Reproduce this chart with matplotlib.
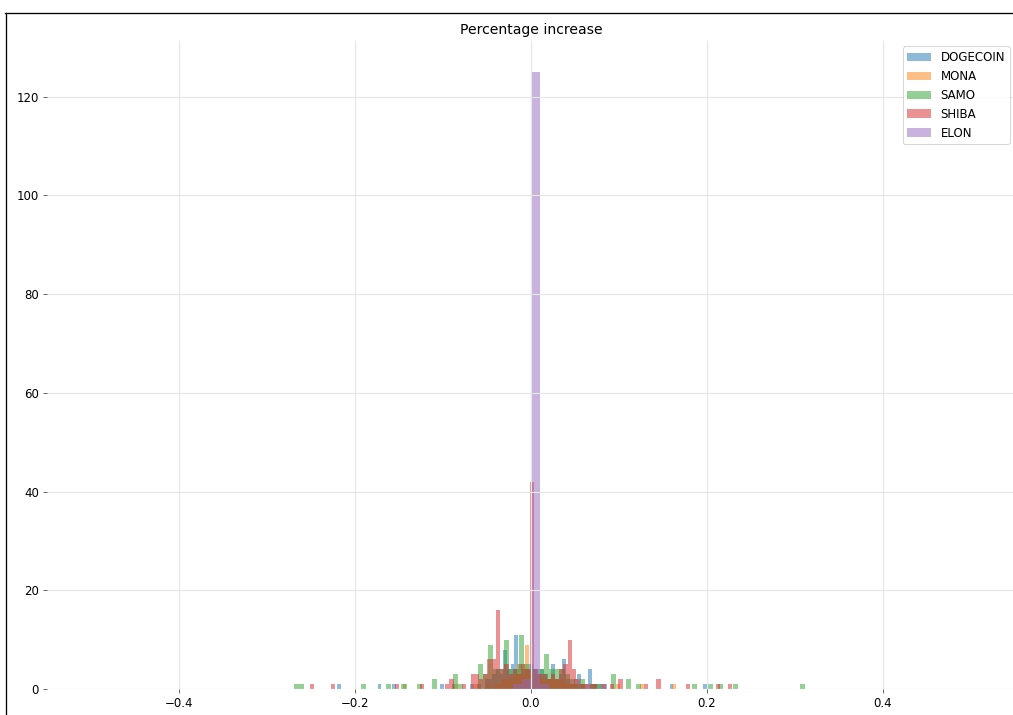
import matplotlib
matplotlib.use("Agg")
import matplotlib.pyplot as plt
from matplotlib.lines import Line2D
import numpy as np

series_names = ["DOGECOIN", "MONA", "SAMO", "SHIBA", "ELON"]

# each series: first bin left edge, bin width, occupied bin indices and counts
doge_start, doge_width = -0.2205, 0.0042
doge_bins = [0, 11, 15, 28, 31, 36, 38, 40, 41, 42, 43, 44, 45, 46, 47, 48, 49, 50, 51, 52, 53, 54,
             55, 56, 57, 58, 59, 60, 61, 62, 63, 64, 65, 66, 67, 68, 69, 70, 71, 72, 90, 99]
doge_counts = [1, 1, 1, 1, 1, 1, 1, 2, 2, 3, 4, 3, 8, 4, 5, 11, 5, 4, 4, 5, 4, 3,
               4, 3, 2, 5, 2, 3, 6, 2, 1, 2, 3, 1, 1, 4, 1, 1, 1, 1, 1, 1]

mona_start, mona_width = -0.2, 0.0045
mona_bins = [12, 25, 30, 33, 35, 36, 37, 38, 39, 40, 41, 42, 43, 44, 45, 46, 47, 48, 49, 50,
             51, 52, 53, 54, 55, 57, 60, 66, 72, 80]
mona_counts = [1, 1, 1, 1, 1, 1, 2, 2, 2, 3, 5, 3, 9, 3, 3, 3, 2, 2, 2, 2,
               2, 2, 1, 1, 1, 1, 1, 1, 1, 1]

samo_start, samo_width = -0.269, 0.0058
samo_bins = [0, 1, 13, 18, 21, 24, 27, 31, 32, 36, 37, 38, 39, 40, 41, 42, 43, 44, 45, 46,
             47, 48, 49, 50, 51, 52, 53, 54, 55, 56, 58, 59, 62, 65, 67, 78, 81, 83, 86, 99]
samo_counts = [1, 1, 1, 1, 1, 1, 2, 3, 1, 5, 3, 9, 4, 4, 10, 4, 4, 11, 5, 4,
               4, 4, 7, 4, 4, 4, 3, 2, 1, 2, 1, 1, 3, 2, 1, 1, 1, 1, 1, 1]

shiba_start, shiba_width = -0.2511, 0.0048
shiba_bins = [0, 5, 20, 26, 32, 33, 36, 38, 39, 40, 41, 42, 43, 44, 45, 46, 47, 48, 49, 50,
              51, 52, 53, 54, 55, 56, 57, 58, 59, 60, 61, 62, 63, 64, 65, 66, 67, 69, 71, 73,
              79, 82, 89, 96, 99]
shiba_counts = [1, 1, 1, 1, 1, 2, 1, 3, 3, 2, 3, 6, 6, 16, 4, 5, 3, 4, 3, 5,
                4, 42, 4, 3, 3, 2, 3, 2, 4, 5, 10, 4, 2, 1, 1, 1, 1, 1, 1, 2,
                1, 2, 1, 1, 1]

elon_start, elon_width = -0.5, 0.01
elon_bins = [48, 49, 50, 51]
elon_counts = [1, 2, 125, 1]

xticks = [-0.4, -0.2, 0.0, 0.2, 0.4]
yticks = [0, 20, 40, 60, 80, 100, 120]

series = [
    (doge_start, doge_width, doge_bins, doge_counts),
    (mona_start, mona_width, mona_bins, mona_counts),
    (samo_start, samo_width, samo_bins, samo_counts),
    (shiba_start, shiba_width, shiba_bins, shiba_counts),
    (elon_start, elon_width, elon_bins, elon_counts),
]
colors = ["#1f77b4", "#ff7f0e", "#2ca02c", "#d62728", "#9467bd"]

W, H, DPI = 1013, 715, 72
fig = plt.figure(figsize=(W / DPI, H / DPI), dpi=DPI)
ax = fig.add_axes([47 / W, (H - 689) / H, 968 / W, 648 / H])

for (start, width, bins, counts), name, c in zip(series, series_names, colors):
    lefts = start + np.array(bins) * width
    ax.bar(lefts, counts, width=width, align="edge", color=c, alpha=0.5,
           label=name, linewidth=0)

ax.set_xlim(-0.55, 0.55)
ax.set_ylim(0, 131.25)
ax.set_xticks(xticks)
ax.set_yticks(yticks)
ax.grid(True, color="#e6e6e6", linewidth=1.2)
for s in ax.spines.values():
    s.set_visible(False)
ax.tick_params(colors="#444444", labelcolor="black", labelsize=11.8, length=4, pad=4)
ax.set_title("Percentage increase", fontsize=14, pad=7)
leg = ax.legend(loc="upper right", fontsize=11.8, borderaxespad=0.45)

# outer frame of the screenshot
fig.add_artist(Line2D([5 / W, 1.0], [1 - 13 / H, 1 - 13 / H], color="black", linewidth=1.3,
                      transform=fig.transFigure))
fig.add_artist(Line2D([6 / W, 6 / W], [0, 1 - 13 / H], color="black", linewidth=1.3,
                      transform=fig.transFigure))

fig.savefig("out.png", dpi=DPI)
